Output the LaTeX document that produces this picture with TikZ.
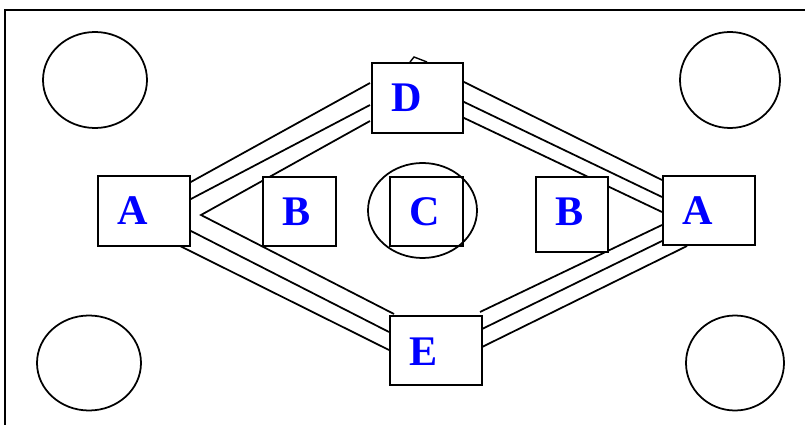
\documentclass[tikz,border=0pt]{standalone}
\usepackage{fontspec}
\setmainfont{Liberation Serif}
\usetikzlibrary{shapes.geometric}
\definecolor{lblblue}{RGB}{0,0,255}
\tikzset{
  box/.style={draw, fill=white, rectangle, inner sep=0pt, line width=1.6pt, anchor=north west},
  lbl/.style={text=lblblue, font=\fontsize{36}{40}\selectfont\bfseries, inner sep=0pt, anchor=base west},
  oval/.style={draw, ellipse, inner sep=0pt, line width=1.5pt},
  conn/.style={line width=1.5pt},
}
\begin{document}
\begin{tikzpicture}[x=0.03cm,y=-0.03cm]
\useasboundingbox (0,0) rectangle (805,425);
% frame
\coordinate (f1) at (805,10);
\coordinate (f0) at (5,10);
\coordinate (f2) at (5,425);
\draw[line width=1.5pt] (f1) -- (f0) -- (f2);
% corner ovals
\node[oval, minimum width=3.12cm, minimum height=2.88cm] (o1) at (95,80) {};
\node[oval, minimum width=3.0cm, minimum height=2.88cm] (o2) at (730,80) {};
\node[oval, minimum width=3.12cm, minimum height=2.85cm] (o3) at (89,363) {};
\node[oval, minimum width=2.94cm, minimum height=2.85cm] (o4) at (735,363) {};
% small mark above D
\coordinate (m1) at (410,62);
\coordinate (m2) at (414,57);
\coordinate (m3) at (427,62);
\draw[line width=1.2pt] (m1) -- (m2) -- (m3);
% connector end points
\coordinate (v) at (201,215);
\coordinate (a1) at (189,183); \coordinate (d1) at (370,83);
\coordinate (a2) at (189,200); \coordinate (d2) at (370,105);
\coordinate (d3) at (370,121);
\coordinate (e1) at (394,314);
\coordinate (a4) at (189,230); \coordinate (e2) at (389,332);
\coordinate (a5) at (180,246); \coordinate (e3) at (389,350);
\coordinate (d4) at (462,81); \coordinate (r1) at (662,180);
\coordinate (d5) at (462,101); \coordinate (r2) at (662,197);
\coordinate (d6) at (462,117); \coordinate (r3) at (662,212);
\coordinate (r4) at (662,225); \coordinate (e4) at (480,312);
\coordinate (r5) at (662,241); \coordinate (e5) at (480,330);
\coordinate (r6) at (687,246); \coordinate (e6) at (480,348);
\draw[conn] (a1) -- (d1);
\draw[conn] (a2) -- (d2);
\draw[conn] (d3) -- (v) -- (e1);
\draw[conn] (a4) -- (e2);
\draw[conn] (a5) -- (e3);
\draw[conn] (d4) -- (r1);
\draw[conn] (d5) -- (r2);
\draw[conn] (d6) -- (r3);
\draw[conn] (r4) -- (e4);
\draw[conn] (r5) -- (e5);
\draw[conn] (r6) -- (e6);
% C oval
\node[oval, minimum width=3.27cm, minimum height=2.85cm] (co) at (422.5,210.5) {};
% boxes
\node[box, minimum width=2.73cm, minimum height=2.1cm] (D) at (371,62) {};
\node[box, minimum width=2.76cm, minimum height=2.1cm] (A1) at (97,175) {};
\node[box, minimum width=2.76cm, minimum height=2.07cm] (A2) at (662,175) {};
\node[box, minimum width=2.19cm, minimum height=2.07cm] (B1) at (262,176) {};
\node[box, minimum width=2.16cm, minimum height=2.25cm] (B2) at (535,176) {};
\node[box, minimum width=2.19cm, minimum height=2.07cm, fill=none] (C) at (389,176) {};
\node[box, minimum width=2.76cm, minimum height=2.07cm] (E) at (389,315) {};
% labels
\node[lbl] (Dt) at (391,112) {D};
\node[lbl] (A1t) at (117,225) {A};
\node[lbl] (A2t) at (682,225) {A};
\node[lbl] (B1t) at (282,226) {B};
\node[lbl] (B2t) at (555,226) {B};
\node[lbl] (Ct) at (409,226) {C};
\node[lbl] (Et) at (409,365) {E};
\end{tikzpicture}
\end{document}
